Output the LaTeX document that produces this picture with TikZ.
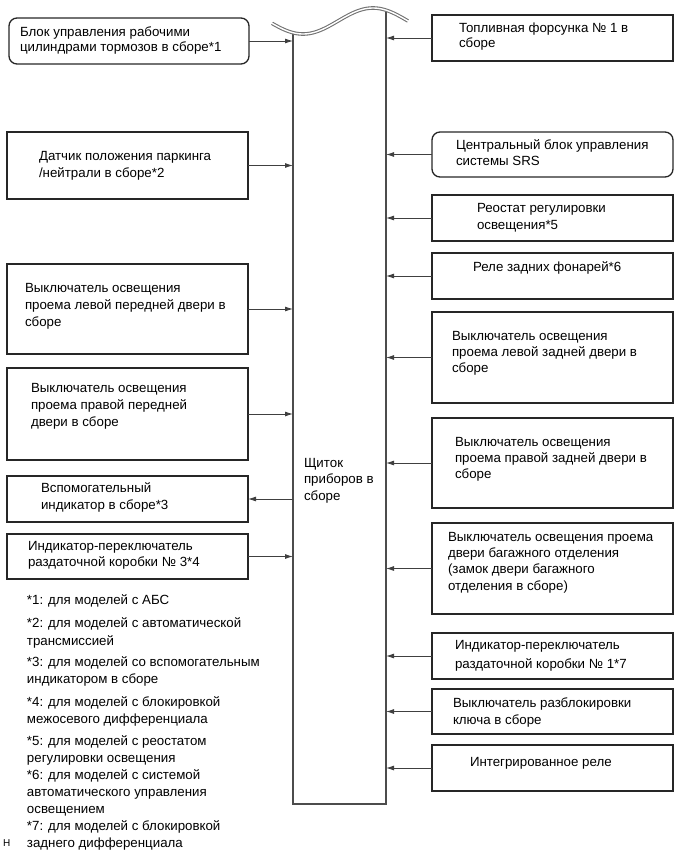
\documentclass[tikz,border=0pt]{standalone}
\usepackage{fontspec}
\setmainfont{Liberation Sans}
\usetikzlibrary{arrows.meta,fit}
\begin{document}
\begin{tikzpicture}[x=1pt,y=-1pt,
  bx/.style={draw=black!85,line width=1.3pt,inner sep=0pt,outer sep=0pt},
  rbx/.style={bx,rounded corners=8pt},
  txt/.style={anchor=base west,inner sep=0pt,outer sep=0pt,align=left,text=black,font=\fontsize{13.3}{16.5}\selectfont},
  arr/.style={draw=black!75,line width=0.9pt,-{Latex[length=8pt,width=5pt]}},
  pline/.style={draw=black!70,line width=1.4pt}
]
\useasboundingbox (0,0) rectangle (690,854);

% panel (instrument cluster)
\node[fit={(293,33)(386,804)},inner sep=0pt,outer sep=0pt] (panel) {};
\draw[pline] (293,32.7) -- (293,804) -- (386,804) -- (386,10.1);
\draw[black!55,line width=3.6pt] plot[domain=272:408,samples=80,smooth] (\x,{21+13*cos((\x-303)/70*180)});
\draw[white,line width=1.4pt] plot[domain=271:409,samples=80,smooth] (\x,{21+13*cos((\x-303)/70*180)});
\node[txt] (paneltxt) at (304,500) {Щиток\\приборов в\\сборе};

% left boxes
\node[rbx,fit={(9,18)(249,64)}] (L1) {};
\node[txt,font=\fontsize{13.3}{15.5}\selectfont] (L1t) at (20,51.5) {Блок управления рабочими\\цилиндрами тормозов в сборе*1};
\node[bx,fit={(7,132)(248,199)}] (L2) {};
\node[txt,font=\fontsize{13.3}{17}\selectfont] (L2t) at (39,177.5) {Датчик положения паркинга\\/нейтрали в сборе*2};
\node[bx,fit={(7,264)(248,354)}] (L3) {};
\node[txt,font=\fontsize{13.3}{17}\selectfont] (L3t) at (25,326) {Выключатель освещения\\проема левой передней двери в\\сборе};
\node[bx,fit={(7,368)(248,460)}] (L4) {};
\node[txt,font=\fontsize{13.3}{17}\selectfont] (L4t) at (31,426) {Выключатель освещения\\проема правой передней\\двери в сборе};
\node[bx,fit={(7,476)(248,522)}] (L5) {};
\node[txt,font=\fontsize{13.3}{17}\selectfont] (L5t) at (41,509) {Вспомогательный\\индикатор в сборе*3};
\node[bx,fit={(7,534)(248,579)}] (L6) {};
\node[txt] (L6t) at (28,566.5) {Индикатор-переключатель\\раздаточной коробки № 3*4};

\draw[arr] (L1.east) -- (L1.east -| panel.west);
\draw[arr] (L2.east) -- (L2.east -| panel.west);
\draw[arr] (L3.east) -- (L3.east -| panel.west);
\draw[arr] (L4.east) -- (L4.east -| panel.west);
\draw[arr] (L5.east -| panel.west) -- (L5.east);
\draw[arr] (L6.east) -- (L6.east -| panel.west);

% right boxes
\node[bx,fit={(432,15)(673,61)}] (R1) {};
\node[txt,font=\fontsize{13.3}{15}\selectfont] (R1t) at (459,47.5) {Топливная форсунка № 1 в\\сборе};
\node[rbx,fit={(432,132)(673,177)}] (R2) {};
\node[txt] (R2t) at (456,165.5) {Центральный блок управления\\системы SRS};
\node[bx,fit={(432,195)(673,241)}] (R3) {};
\node[txt,font=\fontsize{13.3}{17}\selectfont] (R3t) at (477,229) {Реостат регулировки\\освещения*5};
\node[bx,fit={(432,253)(673,299)}] (R4) {};
\node[txt] (R4t) at (473,271) {Реле задних фонарей*6};
\node[bx,fit={(432,312)(673,403)}] (R5) {};
\node[txt,font=\fontsize{13.3}{16}\selectfont] (R5t) at (452,372) {Выключатель освещения\\проема левой задней двери в\\сборе};
\node[bx,fit={(432,418)(673,508)}] (R6) {};
\node[txt,font=\fontsize{13.3}{16}\selectfont] (R6t) at (455,478) {Выключатель освещения\\проема правой задней двери в\\сборе};
\node[bx,fit={(432,523)(673,614)}] (R7) {};
\node[txt,font=\fontsize{13.3}{16.3}\selectfont] (R7t) at (448,590) {Выключатель освещения проема\\двери багажного отделения\\(замок двери багажного\\отделения в сборе)};
\node[bx,fit={(432,633)(673,679)}] (R8) {};
\node[txt,font=\fontsize{13.3}{19}\selectfont] (R8t) at (455,668) {Индикатор-переключатель\\раздаточной коробки № 1*7};
\node[bx,fit={(432,689)(673,734)}] (R9) {};
\node[txt,font=\fontsize{13.3}{17}\selectfont] (R9t) at (453,724) {Выключатель разблокировки\\ключа в сборе};
\node[bx,fit={(432,745)(673,791)}] (R10) {};
\node[txt] (R10t) at (470,766) {Интегрированное реле};

\foreach \r in {R1,R2,R3,R4,R5,R6,R7,R8,R9,R10}
  \draw[arr] (\r.west) -- (\r.west -| panel.east);

% footnotes
\node[txt] (f1) at (27,604) {*1: для моделей с АБС};
\node[txt,font=\fontsize{13.3}{18}\selectfont] (f2) at (27,645) {*2: для моделей с автоматической\\трансмиссией};
\node[txt,font=\fontsize{13.3}{17}\selectfont] (f3) at (27,683) {*3: для моделей со вспомогательным\\индикатором в сборе};
\node[txt,font=\fontsize{13.3}{17}\selectfont] (f4) at (27,723) {*4: для моделей с блокировкой\\межосевого дифференциала};
\node[txt,font=\fontsize{13.3}{17}\selectfont] (f5) at (27,762) {*5: для моделей с реостатом\\регулировки освещения};
\node[txt,font=\fontsize{13.3}{17}\selectfont] (f6) at (27,813) {*6: для моделей с системой\\автоматического управления\\освещением};
\node[txt,font=\fontsize{13.3}{17}\selectfont] (f7) at (27,847) {*7: для моделей с блокировкой\\заднего дифференциала};
\node[txt,font=\fontsize{10}{12}\selectfont] (hmark) at (3,846) {H};
\end{tikzpicture}
\end{document}
